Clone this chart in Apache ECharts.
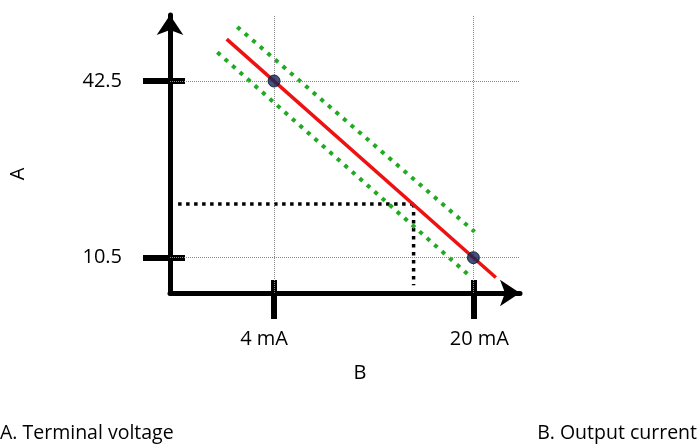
<!DOCTYPE html>
<html>
<head>
<meta charset="utf-8">
<script src="https://cdn.jsdelivr.net/npm/echarts@6/dist/echarts.min.js"></script>
<style>html,body{margin:0;padding:0;background:#fff}#c{width:699px;height:448px}</style>
</head>
<body>
<div id="c"></div>
<script>
// ---- data ----
const xTicks = [4, 20];
const xTickLabels = ['4 mA', '20 mA'];
const yTicks = [10.5, 42.5];
const yTickLabels = ['10.5', '42.5'];
const xRange = [-4.35, 23.74];
const yRange = [4.1, 54.46];
const loadLine = [[0.2, 50.1], [21.8, 6.9]];
const upperBand = [[1.05, 52.3], [20.1, 15.2]];
const lowerBand = [[-0.55, 47.7], [19.6, 7.4]];
const guideH = [[-3.7, 20.2], [15.2, 20.2]];
const guideV = [[15.2, 20.2], [15.2, 5.5]];
const points = [[4, 42.5], [20, 10.5]];
const xName = 'B';
const yName = 'A';
const noteA = 'A. Terminal voltage';
const noteB = 'B. Output current';

const FONT = 'Open Sans';
const FS = 20;
const chart = echarts.init(document.getElementById('c'), null, {renderer: 'canvas'});

const labelShift = {'4 mA': [0, 20, 0, 0], '20 mA': [0, 0, 0, 12]};
function xFmt(v) {
  const i = xTicks.indexOf(v);
  if (i < 0) return '';
  return '{t' + i + '|' + xTickLabels[i] + '}';
}
function yFmt(v) {
  const i = yTicks.indexOf(v);
  return i >= 0 ? yTickLabels[i] : '';
}
const rich = {};
xTickLabels.forEach((t, i) => {
  rich['t' + i] = {fontFamily: FONT, fontSize: FS, color: '#000', padding: labelShift[t]};
});

const baseX = {type: 'value', min: xRange[0], max: xRange[1], splitLine: {show: false}};
const baseY = {type: 'value', min: yRange[0], max: yRange[1], splitLine: {show: false}};

chart.setOption({
  animation: false,
  backgroundColor: '#fff',
  textStyle: {fontFamily: FONT},
  title: [
    {text: noteA, left: 0, top: 423, textStyle: {fontFamily: FONT, fontSize: 19.5, fontWeight: 'normal', color: '#000'}, padding: 0},
    {text: noteB, right: 2, top: 423, textStyle: {fontFamily: FONT, fontSize: 19.5, fontWeight: 'normal', color: '#000'}, padding: 0}
  ],
  grid: {left: 170, right: 179, top: 15, bottom: 155, containLabel: false},
  xAxis: [
    Object.assign({}, baseX, {
      position: 'bottom',
      name: xName, nameLocation: 'middle', nameGap: 70,
      nameTextStyle: {fontFamily: FONT, fontSize: FS, color: '#000', padding: [0, 0, 0, 30]},
      axisLine: {onZero: false, symbol: ['none', 'arrow'], symbolSize: [20, 20], lineStyle: {color: '#000', width: 5}},
      axisTick: {show: true, customValues: xTicks, length: 26, inside: false, lineStyle: {color: '#000', width: 6}},
      axisLabel: {customValues: xTicks, formatter: xFmt, rich: rich, margin: 36, fontFamily: FONT, fontSize: FS, color: '#000'}
    }),
    Object.assign({}, baseX, {
      position: 'bottom',
      axisLine: {show: false, onZero: false},
      axisTick: {show: true, customValues: xTicks, length: 13, inside: true, lineStyle: {color: '#000', width: 6}},
      axisLabel: {show: false}
    })
  ],
  yAxis: [
    Object.assign({}, baseY, {
      position: 'left',
      name: yName, nameLocation: 'middle', nameGap: 142, nameRotate: 90,
      nameTextStyle: {fontFamily: FONT, fontSize: FS, color: '#000', padding: [0, 40, 0, 0]},
      axisLine: {onZero: false, symbol: ['none', 'arrow'], symbolSize: [20, 20], lineStyle: {color: '#000', width: 5}},
      axisTick: {show: true, customValues: yTicks, length: 27, inside: false, lineStyle: {color: '#000', width: 6}},
      axisLabel: {customValues: yTicks, formatter: yFmt, margin: 48, fontFamily: FONT, fontSize: FS, color: '#000'}
    }),
    Object.assign({}, baseY, {
      position: 'left',
      axisLine: {show: false, onZero: false},
      axisTick: {show: true, customValues: yTicks, length: 15, inside: true, lineStyle: {color: '#000', width: 6}},
      axisLabel: {show: false}
    })
  ],
  series: [
    {
      type: 'line', data: guideH, symbol: 'none', z: 3,
      lineStyle: {color: '#000', width: 3.5, type: [3.5, 4.5]},
      markLine: {
        silent: true, symbol: 'none', label: {show: false},
        lineStyle: {color: '#888', width: 1, type: [1, 1]},
        data: xTicks.map(v => ({xAxis: v})).concat(yTicks.map(v => ({yAxis: v})))
      }
    },
    {type: 'line', data: guideV, symbol: 'none', z: 3, lineStyle: {color: '#000', width: 3.5, type: [3.5, 4.5]}},
    {type: 'line', data: upperBand, symbol: 'none', z: 4, lineStyle: {color: '#1faa1f', width: 4, type: [4, 6]}},
    {type: 'line', data: lowerBand, symbol: 'none', z: 4, lineStyle: {color: '#1faa1f', width: 4, type: [4, 6]}},
    {type: 'line', data: loadLine, symbol: 'none', z: 5, lineStyle: {color: '#ee1111', width: 3.5}},
    {type: 'scatter', data: points, symbolSize: 12, z: 6,
      itemStyle: {color: '#13275a', borderColor: '#05102a', borderWidth: 1}}
  ]
});
</script>
</body>
</html>
